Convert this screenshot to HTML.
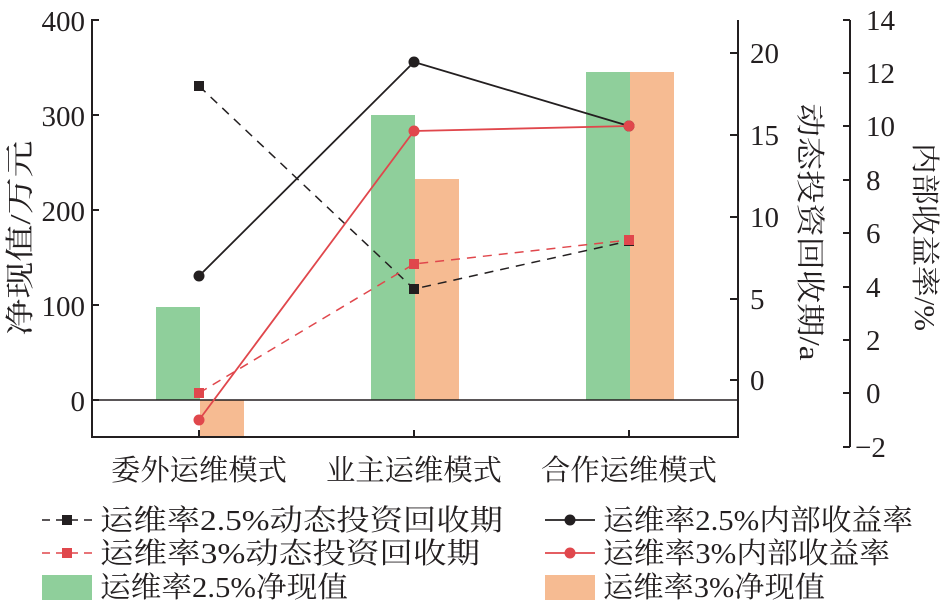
<!DOCTYPE html>
<html><head><meta charset="utf-8"><style>
body{margin:0;background:#fff;}
svg text{font-family:"Liberation Serif","Noto Serif CJK SC",serif;fill:#231f20;}
</style></head><body>
<svg width="945" height="609" viewBox="0 0 945 609" xmlns="http://www.w3.org/2000/svg">
<rect x="156" y="307" width="44" height="93" fill="#8fcf9b"/>
<rect x="200" y="400" width="44" height="36" fill="#f6bb92"/>
<rect x="371" y="115" width="44" height="285" fill="#8fcf9b"/>
<rect x="415" y="179" width="44" height="221" fill="#f6bb92"/>
<rect x="586" y="72" width="44" height="328" fill="#8fcf9b"/>
<rect x="630" y="72" width="44" height="328" fill="#f6bb92"/>
<line x1="92" y1="400" x2="738" y2="400" stroke="#231f20" stroke-width="1.5"/>
<g stroke="#231f20" stroke-width="2" fill="none">
<polyline points="99,20 92,20 92,437 738,437 738,20"/>
<line x1="92" y1="115" x2="99" y2="115"/><line x1="92" y1="210" x2="99" y2="210"/><line x1="92" y1="305" x2="99" y2="305"/><line x1="92" y1="400" x2="99" y2="400"/>
<line x1="730" y1="53" x2="738" y2="53"/><line x1="730" y1="135" x2="738" y2="135"/><line x1="730" y1="217" x2="738" y2="217"/><line x1="730" y1="299" x2="738" y2="299"/><line x1="730" y1="380" x2="738" y2="380"/>
<line x1="199" y1="437" x2="199" y2="430"/><line x1="414" y1="437" x2="414" y2="430"/><line x1="629" y1="437" x2="629" y2="430"/>
<line x1="850" y1="20" x2="850" y2="447"/>
<line x1="843" y1="20" x2="850" y2="20"/><line x1="843" y1="73" x2="850" y2="73"/><line x1="843" y1="126" x2="850" y2="126"/><line x1="843" y1="180" x2="850" y2="180"/><line x1="843" y1="233" x2="850" y2="233"/><line x1="843" y1="287" x2="850" y2="287"/><line x1="843" y1="340" x2="850" y2="340"/><line x1="843" y1="393" x2="850" y2="393"/><line x1="843" y1="447" x2="850" y2="447"/>
</g>
<g font-size="29" text-anchor="end">
<text x="85" y="31">400</text><text x="85" y="126">300</text><text x="85" y="221">200</text><text x="85" y="316">100</text><text x="85" y="411">0</text>
</g>
<g font-size="29">
<text x="750" y="63">20</text><text x="750" y="145">15</text><text x="750" y="227">10</text><text x="750" y="309">5</text><text x="750" y="390">0</text>
<text x="866" y="30">14</text><text x="866" y="83">12</text><text x="866" y="136">10</text><text x="866" y="190">8</text><text x="866" y="243">6</text><text x="866" y="297">4</text><text x="866" y="350">2</text><text x="866" y="403">0</text><text x="855" y="457">−2</text>
</g>
<g font-size="29" text-anchor="middle">
<text x="199" y="480" textLength="176" lengthAdjust="spacingAndGlyphs">委外运维模式</text>
<text x="414" y="480" textLength="176" lengthAdjust="spacingAndGlyphs">业主运维模式</text>
<text x="629" y="480" textLength="176" lengthAdjust="spacingAndGlyphs">合作运维模式</text>
</g>
<text font-size="29" text-anchor="middle" transform="translate(30,238) rotate(-90)" textLength="195" lengthAdjust="spacingAndGlyphs">净现值/万元</text>
<text font-size="29" text-anchor="middle" transform="translate(800,232) rotate(90)" textLength="257" lengthAdjust="spacingAndGlyphs">动态投资回收期/a</text>
<text font-size="29" text-anchor="middle" transform="translate(915,237) rotate(90)" textLength="188" lengthAdjust="spacingAndGlyphs">内部收益率/%</text>
<polyline points="199,86 414,289 629,241" fill="none" stroke="#231f20" stroke-width="1.5" stroke-dasharray="9,7"/>
<polyline points="199,393 414,264 629,240" fill="none" stroke="#e0474c" stroke-width="1.5" stroke-dasharray="9,7"/>
<polyline points="199,276 414,62 629,126" fill="none" stroke="#231f20" stroke-width="1.8"/>
<polyline points="199,420 414,131 629,126" fill="none" stroke="#e0474c" stroke-width="1.8"/>
<g fill="#231f20"><rect x="194" y="81" width="10" height="10"/><rect x="409" y="284" width="10" height="10"/><rect x="624" y="236" width="10" height="10"/>
<circle cx="199" cy="276" r="5.5"/><circle cx="414" cy="62" r="5.5"/><circle cx="629" cy="126" r="5.5"/></g>
<g fill="#e0474c"><rect x="194" y="388" width="10" height="10"/><rect x="409" y="259" width="10" height="10"/><rect x="624" y="235" width="10" height="10"/>
<circle cx="199" cy="420" r="5.5"/><circle cx="414" cy="131" r="5.5"/><circle cx="629" cy="126" r="5.5"/></g>
<line x1="42" y1="520" x2="92" y2="520" stroke="#231f20" stroke-width="1.5" stroke-dasharray="8,6"/><rect x="62" y="515" width="10" height="10" fill="#231f20"/>
<text x="100" y="530" font-size="29" textLength="403" lengthAdjust="spacingAndGlyphs">运维率2.5%动态投资回收期</text>
<line x1="42" y1="553" x2="92" y2="553" stroke="#e0474c" stroke-width="1.5" stroke-dasharray="8,6"/><rect x="62" y="548" width="10" height="10" fill="#e0474c"/>
<text x="100" y="563" font-size="29" textLength="380" lengthAdjust="spacingAndGlyphs">运维率3%动态投资回收期</text>
<rect x="42" y="575" width="50" height="25" fill="#8fcf9b"/>
<text x="100" y="597" font-size="29" textLength="248" lengthAdjust="spacingAndGlyphs">运维率2.5%净现值</text>
<line x1="545" y1="520" x2="595" y2="520" stroke="#231f20" stroke-width="1.8"/><circle cx="570" cy="520" r="5.5" fill="#231f20"/>
<text x="603" y="530" font-size="29" textLength="310" lengthAdjust="spacingAndGlyphs">运维率2.5%内部收益率</text>
<line x1="545" y1="553" x2="595" y2="553" stroke="#e0474c" stroke-width="1.8"/><circle cx="570" cy="553" r="5.5" fill="#e0474c"/>
<text x="603" y="563" font-size="29" textLength="287" lengthAdjust="spacingAndGlyphs">运维率3%内部收益率</text>
<rect x="545" y="575" width="50" height="25" fill="#f6bb92"/>
<text x="603" y="597" font-size="29" textLength="222" lengthAdjust="spacingAndGlyphs">运维率3%净现值</text>
</svg>
</body></html>
